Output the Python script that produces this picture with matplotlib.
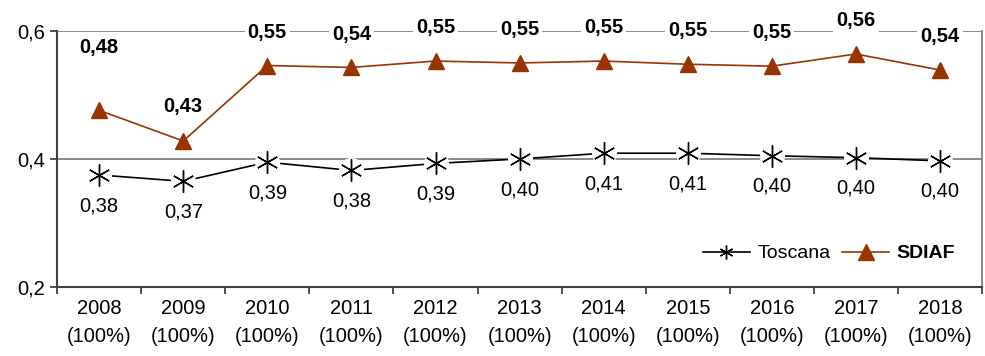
import matplotlib.pyplot as plt
from matplotlib.lines import Line2D
from matplotlib.ticker import FixedLocator

years = ["2008", "2009", "2010", "2011", "2012", "2013", "2014", "2015", "2016", "2017", "2018"]
coverage = ["100%"] * 11
toscana = [0.375, 0.365, 0.395, 0.382, 0.393, 0.400, 0.409, 0.409, 0.405, 0.402, 0.397]
sdiaf = [0.476, 0.428, 0.546, 0.543, 0.553, 0.550, 0.553, 0.548, 0.545, 0.564, 0.539]
toscana_labels = ["0,38", "0,37", "0,39", "0,38", "0,39", "0,40", "0,41", "0,41", "0,40", "0,40", "0,40"]
sdiaf_labels = ["0,48", "0,43", "0,55", "0,54", "0,55", "0,55", "0,55", "0,55", "0,55", "0,56", "0,54"]

BROWN = "#993300"
plt.rcParams["font.family"] = ["Liberation Sans", "DejaVu Sans"]

fig = plt.figure(figsize=(9.85, 3.56), dpi=100)
ax = fig.add_axes([0.058, 0.194, 0.939, 0.719])

x = list(range(len(years)))

# gridlines
for yv in (0.4, 0.6):
    ax.axhline(yv, color="#808080", lw=1.3, zorder=1)

# Toscana: line, white halo, asterisk
ax.plot(x, toscana, color="black", lw=1.2, zorder=2)
ax.plot(x, toscana, ls="none", marker="o", ms=17, mfc="white", mec="white", zorder=3)
ax.plot(x, toscana, ls="none", marker=(6, 2, 0), ms=16, mec="black", mew=1.0, zorder=4)

# SDIAF
ax.plot(x, sdiaf, color=BROWN, lw=1.2, marker="^", ms=12, mfc=BROWN, mec=BROWN, zorder=5)

# data labels
sdiaf_offsets = [45, 25, 24, 24, 24, 24, 24, 24, 24, 24, 24]
for xi, v, lab, off in zip(x, sdiaf, sdiaf_labels, sdiaf_offsets):
    ax.annotate(lab, (xi, v), xytext=(0, off), textcoords="offset points",
                ha="center", va="center", fontsize=14.5, fontweight="bold",
                bbox=dict(boxstyle="square,pad=0.15", fc="white", ec="none"), zorder=6)
for xi, v, lab in zip(x, toscana, toscana_labels):
    ax.annotate(lab, (xi, v), xytext=(0, -22), textcoords="offset points",
                ha="center", va="center", fontsize=14.5,
                bbox=dict(boxstyle="square,pad=0.15", fc="white", ec="none"), zorder=6)

ax.set_xlim(-0.5, len(years) - 0.5)
ax.set_ylim(0.2, 0.6)
ax.set_yticks([0.2, 0.4, 0.6])
ax.set_yticklabels(["0,2", "0,4", "0,6"], fontsize=14.5)
ax.set_xticks(x)
ax.set_xticklabels([f"{y}\n({c})" for y, c in zip(years, coverage)], fontsize=14.5, linespacing=1.6)
ax.xaxis.set_minor_locator(FixedLocator([i - 0.5 for i in range(len(years) + 1)]))
ax.tick_params(axis="x", which="major", length=0, pad=9)
ax.tick_params(axis="x", which="minor", length=5, width=1.3, color="#404040")
ax.tick_params(axis="y", length=5, width=1.3, color="#404040", pad=4)

for side in ("left", "bottom"):
    ax.spines[side].set_color("#404040")
    ax.spines[side].set_linewidth(1.5)
ax.spines["top"].set_visible(False)
ax.spines["right"].set_color("#808080")
ax.spines["right"].set_linewidth(1.3)

tos_handle = Line2D([], [], color="black", lw=1.2, marker=(6, 2, 0), ms=10, mec="black", mew=1.0)
sd_handle = Line2D([], [], color=BROWN, lw=1.2, marker="^", ms=11, mfc=BROWN, mec=BROWN)
leg = ax.legend(
    [tos_handle, sd_handle], ["Toscana", "SDIAF"],
    loc="center right", bbox_to_anchor=(0.99, 0.13), ncol=2, frameon=False,
    fontsize=14, handlelength=2.4, columnspacing=0.6, handletextpad=0.4,
)
leg.get_texts()[1].set_fontweight("bold")

fig.savefig("out.png", dpi=100)
